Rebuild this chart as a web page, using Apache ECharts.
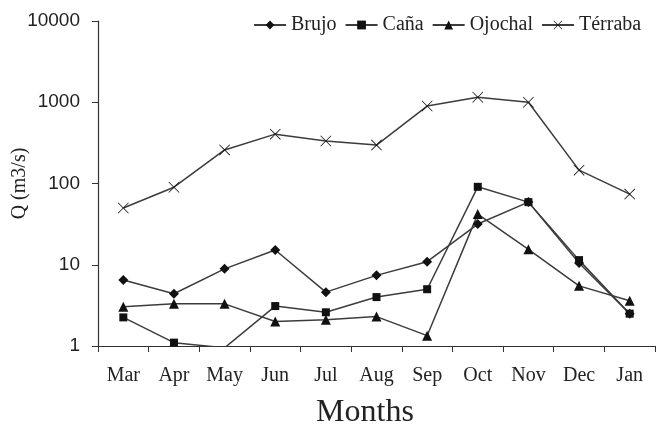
<!DOCTYPE html>
<html><head><meta charset="utf-8">
<script src="https://cdn.jsdelivr.net/npm/echarts@6/dist/echarts.min.js"></script>
<style>html,body{margin:0;padding:0;background:#fff}#c{width:663px;height:428px}</style>
</head><body><div id="c"></div>
<script>
const months = ['Mar','Apr','May','Jun','Jul','Aug','Sep','Oct','Nov','Dec','Jan'];
const brujo = [6.5, 4.4, 8.9, 15.2, 4.6, 7.4, 10.9, 31.7, 59, 10.5, 2.5];
const cana = [2.25, 1.1, 0.95, 3.1, 2.6, 4.0, 5.0, 91, 59, 11.4, 2.5];
const ojochal = [3.05, 3.3, 3.3, 2.0, 2.1, 2.3, 1.34, 42, 15.5, 5.5, 3.6];
const terraba = [50, 90, 259, 405, 333, 297, 898, 1150, 1000, 146, 74];
const yTicks = [1, 10, 100, 1000, 10000];

const xPath = 'path://M1,0 L10,9 L19,0 L20,1 L11,10 L20,19 L19,20 L10,11 L1,20 L0,19 L9,10 L0,1 Z';
function s(name, data, symbol, size) {
  return {
    name, type: 'line', data, symbol, symbolSize: size, clip: true,
    lineStyle: { color: '#3c3c3c', width: 1.5 },
    itemStyle: { color: '#111', borderWidth: 0 },
    emphasis: { disabled: true }
  };
}
const chart = echarts.init(document.getElementById('c'));
chart.setOption({
  animation: false,
  backgroundColor: '#fff',
  grid: { left: 98, top: 21, right: 8, bottom: 82, containLabel: false, outerBoundsMode: 'none' },
  legend: {
    top: 10, left: 248, itemWidth: 32, itemHeight: 11, itemGap: 8,
    textStyle: { fontFamily: 'Liberation Serif', fontSize: 20, color: '#222' },
    data: ['Brujo','Caña','Ojochal','Térraba']
  },
  xAxis: {
    type: 'category', data: months, boundaryGap: true,
    name: 'Months', nameLocation: 'middle', nameGap: 51, nameMoveOverlap: false,
    nameTextStyle: { fontFamily: 'Liberation Serif', fontSize: 32, color: '#222', padding: [0, 23, 0, 0] },
    axisLine: { lineStyle: { color: '#333', width: 1.2 } },
    axisTick: { show: true, length: 6, interval: 0, lineStyle: { color: '#333' } },
    axisLabel: { fontFamily: 'Liberation Serif', fontSize: 20, color: '#222', margin: 20, interval: 0, hideOverlap: false }
  },
  yAxis: {
    type: 'log', logBase: 10, min: yTicks[0], max: yTicks[yTicks.length-1],
    name: 'Q (m3/s)', nameLocation: 'middle', nameGap: 68, nameMoveOverlap: false,
    nameTextStyle: { fontFamily: 'Liberation Serif', fontSize: 20, color: '#222' },
    axisLine: { show: true, lineStyle: { color: '#333', width: 1.2 } },
    axisTick: { show: true, length: 6, lineStyle: { color: '#333' } },
    splitLine: { show: false },
    minorTick: { show: false },
    axisLabel: { fontFamily: 'Liberation Sans', fontSize: 19, color: '#222', margin: 18,
      formatter: v => String(Math.round(v)) }
  },
  series: [
    s('Brujo', brujo, 'diamond', 10),
    s('Caña', cana, 'rect', 8),
    s('Ojochal', ojochal, 'triangle', 10),
    s('Térraba', terraba, xPath, 11)
  ]
});
</script></body></html>
